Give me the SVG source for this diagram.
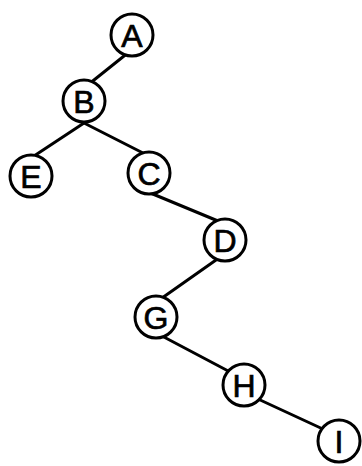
<svg xmlns="http://www.w3.org/2000/svg" width="362" height="466" viewBox="0 0 362 466">
<style>
.n circle{fill:#fff;stroke:#000;stroke-width:3}
.n text{font-family:"Liberation Sans",Arial,sans-serif;font-size:32px;fill:#000;stroke:#000;stroke-width:0.7;text-anchor:middle;dominant-baseline:central}
#edges line{stroke:#000;stroke-width:3;stroke-linecap:round}
</style>
<rect width="362" height="466" fill="#fff"/>
<g id="edges">
<line x1="129" y1="52" x2="89" y2="84"/>
<line x1="84" y1="123" x2="34" y2="156"/>
<line x1="84" y1="123" x2="143" y2="153"/>
<line x1="148" y1="192" x2="218" y2="221"/>
<line x1="216" y1="260" x2="162" y2="298"/>
<line x1="162" y1="336" x2="232" y2="373"/>
<line x1="258" y1="399" x2="325" y2="430"/>
</g>
<g id="A" class="n"><circle cx="132" cy="35" r="21"/><text x="132" y="36">A</text></g>
<g id="B" class="n"><circle cx="84" cy="101" r="21"/><text x="84" y="102">B</text></g>
<g id="E" class="n"><circle cx="31" cy="176" r="21"/><text x="31" y="177">E</text></g>
<g id="C" class="n"><circle cx="149" cy="173" r="21"/><text x="149" y="174">C</text></g>
<g id="D" class="n"><circle cx="225" cy="240" r="21"/><text x="225" y="241">D</text></g>
<g id="G" class="n"><circle cx="156" cy="317" r="21"/><text x="156" y="318">G</text></g>
<g id="H" class="n"><circle cx="244" cy="385" r="21"/><text x="244" y="386">H</text></g>
<g id="I" class="n"><circle cx="339" cy="441" r="21"/><text x="339" y="442">I</text></g>
</svg>
